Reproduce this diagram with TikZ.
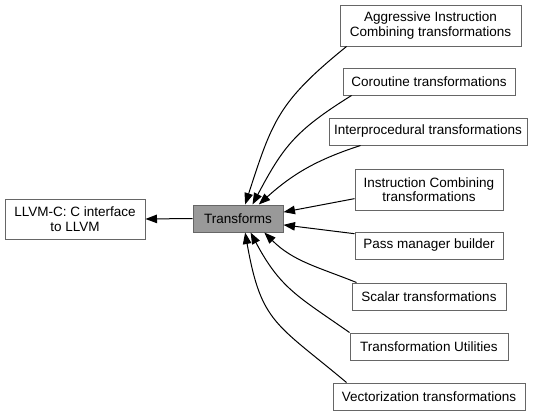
\documentclass[tikz,border=0pt]{standalone}
\usepackage{fontspec}
\setmainfont{Liberation Sans}
\usetikzlibrary{arrows.meta,calc}
\definecolor{bordergray}{HTML}{666666}
\definecolor{fillgray}{HTML}{999999}
\begin{document}
\begin{tikzpicture}[x=1pt,y=-1pt,
  box/.style={draw=bordergray,line width=1pt,fill=white,align=center,inner sep=0pt,
    font=\fontsize{13.5}{14.5}\selectfont},
  arr/.style={draw=black,line width=1pt,-{Triangle[length=11.5pt,width=8.5pt]}}]
\useasboundingbox (0,0) rectangle (536,413);
\node[box,minimum width=140pt,minimum height=40pt] (llvm) at (75,219) {LLVM-C: C interface\\to LLVM};
\node[box,fill=fillgray,minimum width=90pt,minimum height=27pt] (tr) at (238,218.5) {Transforms};
\node[box,minimum width=181pt,minimum height=41pt] (agg) at (430.5,25.5) {Aggressive Instruction\\Combining transformations};
\node[box,minimum width=172pt,minimum height=27pt] (co) at (429,81.5) {Coroutine transformations};
\node[box,minimum width=198pt,minimum height=27pt] (ip) at (428,131.5) {Interprocedural transformations};
\node[box,minimum width=148pt,minimum height=41pt] (ic) at (429,189.5) {Instruction Combining\\transformations};
\node[box,minimum width=148pt,minimum height=27pt] (pm) at (429,245.5) {Pass manager builder};
\node[box,minimum width=154pt,minimum height=27pt] (sc) at (429,296.5) {Scalar transformations};
\node[box,minimum width=158pt,minimum height=27pt] (tu) at (429,346.5) {Transformation Utilities};
\node[box,minimum width=192pt,minimum height=27pt] (vec) at (429,396.5) {Vectorization transformations};
% edges
\draw[arr] (tr.west) -- (llvm.east);
\draw[arr] ($(agg.south west)+(7,0)$) to[out=219,in=72,looseness=1.2] (tr.63);
\draw[arr] ($(co.south west)+(9,0)$) to[out=212,in=62,looseness=1.15] (tr.44);
\draw[arr] ($(ip.south west)+(32,0)$) to[out=198,in=42] (tr.34);
\draw[arr] (ic.187) -- (tr.8);
\draw[arr] (pm.171) -- (tr.-8);
\draw[arr] ($(sc.north west)+(5,0)$) to[out=158,in=-45] (tr.-28);
\draw[arr] ($(tu.north west)+(0,0)$) to[out=145,in=-62,looseness=1.15] (tr.-48);
\draw[arr] ($(vec.north west)+(14,0)$) to[out=140,in=-80,looseness=1.3] (tr.-63);
\end{tikzpicture}
\end{document}
